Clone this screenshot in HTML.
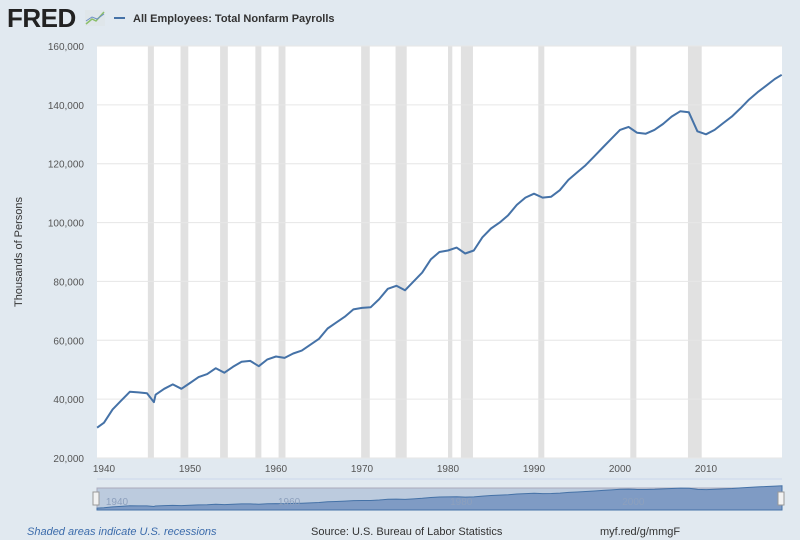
<!DOCTYPE html>
<html><head><meta charset="utf-8"><style>
body{margin:0;width:800px;height:540px;background:#e1e9f0;font-family:"Liberation Sans",sans-serif;overflow:hidden}
</style></head><body>
<svg width="800" height="540" style="position:absolute;left:0;top:0">
<text x="7" y="27" font-size="26" font-weight="bold" fill="#222" letter-spacing="-0.5">FRED</text>
<g><rect x="85" y="10" width="20" height="16" fill="#dfe6ea"/><polyline points="86,24 92,19 96,21 104,12" fill="none" stroke="#8bbf6a" stroke-width="1.5"/><polyline points="86,21 92,17 97,19 104,14" fill="none" stroke="#6d8fc5" stroke-width="1"/></g>
<line x1="114" y1="18" x2="125" y2="18" stroke="#4572a7" stroke-width="2"/>
<text x="133" y="22" font-size="11" font-weight="bold" fill="#333">All Employees: Total Nonfarm Payrolls</text>
<rect x="97" y="46" width="685" height="412" fill="#fff"/>
<g id="rec"></g><g id="grid"></g><g id="yt"></g><g id="xt"></g>
<path id="line" fill="none" stroke="#4572a7" stroke-width="2" stroke-linejoin="round"/>
<text transform="translate(22,252) rotate(-90)" text-anchor="middle" font-size="11" fill="#333">Thousands of Persons</text>
<line x1="97" y1="479" x2="782" y2="479" stroke="#ccd6eb"/>
<rect x="97" y="488" width="685" height="22" fill="#bccbde" stroke="#aab"/>
<path id="nav" fill="#7f9bc4" stroke="#4572a7" stroke-width="1"/>
<g id="navlab"></g>
<rect x="93" y="492" width="6" height="13" fill="#f2f2f2" stroke="#999"/>
<rect x="778" y="492" width="6" height="13" fill="#f2f2f2" stroke="#999"/>
<text x="27" y="535" font-size="11" font-style="italic" fill="#3b6bab">Shaded areas indicate U.S. recessions</text>
<text x="311" y="535" font-size="11" fill="#333">Source: U.S. Bureau of Labor Statistics</text>
<text x="600" y="535" font-size="11" fill="#333">myf.red/g/mmgF</text>
</svg>
<script>
const years=[1939.2,1940,1941,1942,1943,1944,1945,1945.8,1946,1947,1948,1949,1950,1951,1952,1953,1954,1955,1956,1957,1958,1959,1960,1961,1962,1963,1964,1965,1966,1967,1968,1969,1970,1971,1972,1973,1974,1975,1976,1977,1978,1979,1980,1981,1982,1983,1984,1985,1986,1987,1988,1989,1990,1991,1992,1993,1994,1995,1996,1997,1998,1999,2000,2001,2002,2003,2004,2005,2006,2007,2008,2009,2010,2011,2012,2013,2014,2015,2016,2017,2018,2018.8];
const payrolls=[30300,32000,36500,39500,42500,42300,42000,39000,41500,43500,45000,43500,45500,47500,48500,50500,49000,51000,52700,53000,51200,53500,54500,54000,55500,56500,58500,60500,64000,66000,68000,70500,71000,71200,74000,77500,78500,77000,80000,83000,87500,90000,90500,91500,89500,90500,95000,98000,100000,102500,106000,108500,109800,108500,108800,111000,114500,117000,119500,122500,125500,128500,131500,132500,130500,130200,131500,133500,136000,137800,137500,131000,130000,131500,133800,136000,138800,141800,144300,146500,148800,150200];
const recessions=[[1945.1,1945.8],[1948.9,1949.8],[1953.5,1954.4],[1957.6,1958.3],[1960.3,1961.1],[1969.9,1970.9],[1973.9,1975.2],[1980.0,1980.5],[1981.5,1982.9],[1990.5,1991.2],[2001.2,2001.9],[2007.9,2009.5]];
const yTicks=[20000,40000,60000,80000,100000,120000,140000,160000];
const xTicks=[1940,1950,1960,1970,1980,1990,2000,2010];
const navTicks=[1940,1960,1980,2000];
const NS="http://www.w3.org/2000/svg";
const x=y=>104+(y-1940)*8.6;
const yv=v=>458-(v-20000)/140000*412;
function mk(t,a,p){const e=document.createElementNS(NS,t);for(const k in a)e.setAttribute(k,a[k]);document.getElementById(p).appendChild(e);return e;}
recessions.forEach(r=>{const e=mk('rect',{x:x(r[0]),y:46,width:x(r[1])-x(r[0]),height:412,fill:'#e1e1e1'},'rec');

});
yTicks.forEach(v=>{const l=mk('line',{x1:97,x2:782,y1:yv(v),y2:yv(v),stroke:'#e6e6e6'},'grid');


const t=mk('text',{x:84,y:yv(v)+4,'text-anchor':'end','font-size':'10',fill:'#555'},'yt');t.textContent=v.toLocaleString('en-US');

});
xTicks.forEach(v=>{const t=mk('text',{x:x(v),y:472,'text-anchor':'middle','font-size':'10',fill:'#555'},'xt');t.textContent=v;

});
document.getElementById('line').setAttribute('d','M'+years.map((y,i)=>x(y).toFixed(1)+','+yv(payrolls[i]).toFixed(1)).join('L'));
const nx=y=>97+(y-years[0])/(years[years.length-1]-years[0])*685;
const ny=v=>510-(v-20000)/140000*26;
document.getElementById('nav').setAttribute('d','M97,510L'+years.map((y,i)=>nx(y).toFixed(1)+','+ny(payrolls[i]).toFixed(1)).join('L')+'L782,510Z');
navTicks.forEach(v=>{const t=mk('text',{x:nx(v)+2,y:505,'font-size':'10',fill:'#8da0bd'},'navlab');t.textContent=v;

});
</script>
</body></html>
